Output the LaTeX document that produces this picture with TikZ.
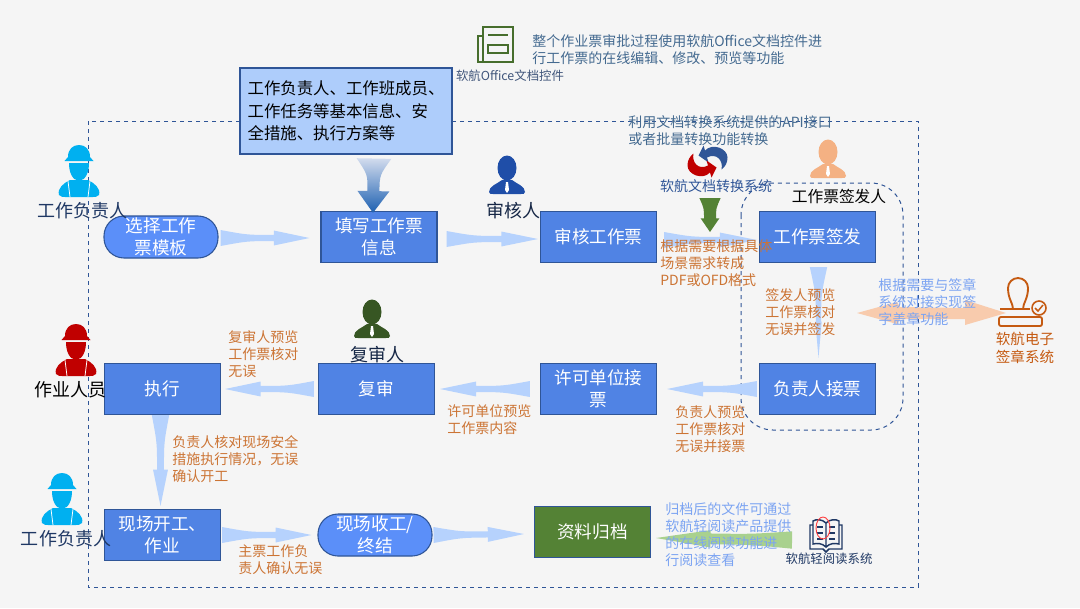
\documentclass[tikz,border=0pt]{standalone}
\usepackage{fontspec}
\setmainfont{Noto Sans CJK SC}
\usetikzlibrary{arrows.meta}
\usetikzlibrary{calc}

\definecolor{pagebg}{HTML}{F5F5F5}
\definecolor{boxblue}{HTML}{5083E4}
\definecolor{roundblue}{HTML}{5B8FF9}
\definecolor{edgeblue}{HTML}{2F5597}
\definecolor{topblue}{HTML}{AECDFB}
\definecolor{flowblue}{HTML}{B6D2FD}
\definecolor{boxgreen}{HTML}{548235}
\definecolor{softgreen}{HTML}{A9D18E}
\definecolor{softorange}{HTML}{F8CBAD}
\definecolor{noteorange}{HTML}{CC7434}
\definecolor{noteblue}{HTML}{7CA4F2}
\definecolor{notegrey}{HTML}{446A90}
\definecolor{navy}{HTML}{1F3864}
\definecolor{stamporange}{HTML}{C55A11}
\definecolor{hatcyan}{HTML}{00B0F0}
\definecolor{hatred}{HTML}{C00000}
\definecolor{suitblue}{HTML}{1F4EA8}
\definecolor{suitgreen}{HTML}{375623}
\definecolor{suitpeach}{HTML}{F4B183}

\tikzset{
  stepbox/.style={rectangle,draw=edgeblue,line width=.8pt,fill=boxblue,text=white,
    minimum width=87pt,minimum height=38.5pt,inner sep=0pt,align=center,
    font=\fontsize{13.2}{16.5}\selectfont},
  roundbox/.style={stepbox,rounded corners=15pt,fill=roundblue,minimum width=85.5pt,minimum height=31.5pt},
  frameline/.style={draw=edgeblue,dashed,line width=.75pt},
  note/.style={inner sep=0pt,anchor=west,align=left,font=\fontsize{10.5}{12.8}\selectfont},
  rolename/.style={inner sep=0pt,align=center,font=\fontsize{13.5}{16}\selectfont},
  iconline/.style={line width=1.1pt,fill=none},
  pics/suit/.style={code={
    \fill[#1] (-18,17) .. controls (-18,19) and (-16,19) .. (-14,19) -- (14,19) .. controls (16,19) and (18,19) .. (18,17) .. controls (18,11) and (10,9) .. (5,5) -- (-5,5) .. controls (-10,9) and (-18,11) .. (-18,17) -- cycle;
    \fill[#1] (0,-7) ellipse (9.5 and 12.5);
    \fill[white] (-1,7) -- (1,7) -- (2,15) -- (0,18) -- (-2,15) -- cycle;
  }},
  pics/helmet/.style={code={
    \fill[#1] (-20,24) .. controls (-22,17) and (-15,12) .. (-9,9) -- (9,9) .. controls (15,12) and (22,17) .. (20,24) .. controls (18,26) and (16,26) .. (14,26) -- (-14,26) .. controls (-16,26) and (-18,26) .. (-20,24) -- cycle;
    \fill[#1] (-10,-8) -- (10,-8) .. controls (10,1) and (7,9) .. (0,10) .. controls (-7,9) and (-10,1) .. (-10,-8) -- cycle;
    \fill[#1] (-14.5,-10) -- (-11,-14) .. controls (-11,-22) and (-6,-26) .. (0,-26) .. controls (6,-26) and (11,-22) .. (11,-14) -- (14.5,-10) -- cycle;
    \draw[white,line width=.6pt] (-11,10) -- (-9,26) (11,10) -- (9,26);
  }},
  pics/halfswap/.style={code={
    \fill[#1] (-9,-6) -- (-4,-16) -- (-2.5,-11) .. controls (5,-19) and (20,-13) .. (20,-4) .. controls (20,1) and (18,5) .. (14,8)
      .. controls (16,-1) and (9,-9) .. (-.5,-4) -- (1,1) -- cycle;
  }},
}

% tapered block arrow: look, tail, neck and head half widths, from, to
\newcommand{\flowarrow}[6]{%
  \path[#1] ($(#5)!#2!90:(#6)$) .. controls ($(#5)!.3!(#6)!#3!90:(#6)$) .. ($(#5)!.6!(#6)!#3!90:(#6)$)
    -- ($(#5)!.6!(#6)!#4!90:(#6)$) -- (#6) -- ($(#5)!.6!(#6)!#4!-90:(#6)$) -- ($(#5)!.6!(#6)!#3!-90:(#6)$)
    .. controls ($(#5)!.3!(#6)!#3!-90:(#6)$) .. ($(#5)!#2!-90:(#6)$) -- cycle;}

\begin{document}
\begin{tikzpicture}[x=.75pt,y=-.75pt]
\useasboundingbox (0,0) rectangle (1080,608);
\fill[pagebg] (0,0) rectangle (1080,608);

% dashed frames
\draw[frameline] (88,121) rectangle (918,587);
\draw[frameline,rounded corners=24pt] (741,183) rectangle (903,430);

% people
\pic at (79,171) {helmet=hatcyan};
\pic at (76,350) {helmet=hatred};
\pic at (62,499) {helmet=hatcyan};
\pic at (507,175) {suit=suitblue};
\pic at (372,319) {suit=suitgreen};
\pic at (828,159) {suit=suitpeach};

% steps
\node(S) at (161,237) [roundbox]{选择工作\\票模板};
\node(B) at (379,237) [stepbox]{填写工作票\\信息};
\node(C) at (598.5,237) [stepbox]{审核工作票};
\node(D) at (817.5,237) [stepbox]{工作票签发};
\node(E) at (817.5,389) [stepbox]{负责人接票};
\node(F) at (598.5,389) [stepbox]{许可单位接\\票};
\node(G) at (376.5,389) [stepbox]{复审};
\node(H) at (162.5,389) [stepbox]{执行};
\node(I) at (162.5,535) [stepbox]{现场开工、\\作业};
\node(K) at (375,535) [roundbox]{现场收工/\\终结};
\node(L) at (592.5,532) [stepbox,fill=boxgreen]{资料归档};
\node(T) at (346,111) [rectangle,draw=edgeblue,line width=.8pt,fill=topblue,minimum width=159pt,minimum height=64.5pt,
  inner sep=0pt,align=left,font=\fontsize{12.3}{17}\selectfont]{工作负责人、工作班成员、\\工作任务等基本信息、安\\全措施、执行方案等};

% arrow ends
\coordinate(s1) at ($(S.east)+(2,1)$);
\coordinate(b0) at ($(B.west)+(-11,1)$);
\coordinate(b1) at ($(B.east)+(9,2)$);
\coordinate(c0) at ($(C.west)+(-2,2)$);
\coordinate(c1) at ($(C.east)+(7,3)$);
\coordinate(d0) at ($(D.west)+(-2,3)$);
\coordinate(d1) at ($(D.south)+(1,4)$);
\coordinate(e0) at ($(E.north)+(1,-5)$);
\coordinate(e1) at ($(E.west)+(-2,0)$);
\coordinate(f0) at ($(F.east)+(10,0)$);
\coordinate(f1) at ($(F.west)+(-10,0)$);
\coordinate(g0) at ($(G.east)+(5,0)$);
\coordinate(g1) at ($(G.west)+(-4,0)$);
\coordinate(h0) at ($(H.east)+(4,0)$);
\coordinate(h1) at ($(H.south)+(-2,0)$);
\coordinate(i0) at ($(I.north)+(-2,-3)$);
\coordinate(i1) at ($(I.east)+(1,0)$);
\coordinate(k0) at ($(K.west)+(-6,0)$);
\coordinate(k1) at ($(K.east)+(1,0)$);
\coordinate(l0) at ($(L.west)+(-10,2)$);
\coordinate(l1) at ($(L.east)+(141,8)$);
\coordinate(m0) at ($(L.east)+(5,6)$);
\coordinate(t0) at ($(T.south)+(28,4)$);
\coordinate(t1) at ($(B.north)+(-6,2)$);
\coordinate(u0) at (710,198);
\coordinate(u1) at (710,232);

% flow arrows
\flowarrow{fill=flowblue}{6pt}{2.3pt}{5.6pt}{s1}{b0}
\flowarrow{fill=flowblue}{6pt}{2.3pt}{5.6pt}{b1}{c0}
\flowarrow{fill=flowblue}{6pt}{2.3pt}{5.6pt}{c1}{d0}
\flowarrow{fill=flowblue}{6.5pt}{2pt}{2.4pt}{d1}{e0}
\flowarrow{fill=flowblue}{6pt}{2.3pt}{5.6pt}{e1}{f0}
\flowarrow{fill=flowblue}{6pt}{2.3pt}{5.6pt}{f1}{g0}
\flowarrow{fill=flowblue}{6pt}{2.3pt}{5.6pt}{g1}{h0}
\flowarrow{fill=flowblue}{6.5pt}{2.6pt}{5.6pt}{h1}{i0}
\flowarrow{fill=flowblue}{6pt}{2.3pt}{5.6pt}{i1}{k0}
\flowarrow{fill=flowblue}{6pt}{2.3pt}{5.6pt}{k1}{l0}
\flowarrow{fill=softgreen}{6.5pt}{4pt}{6.5pt}{l1}{m0}
\flowarrow{top color=suitblue!20!white,bottom color=suitblue!90!cyan}{13pt}{4.5pt}{12pt}{t0}{t1}
\flowarrow{fill=boxgreen}{8pt}{4.5pt}{7pt}{u0}{u1}

% office control icon
\draw[iconline,draw=boxgreen!85!black] (483,27) rectangle (513,62);
\draw[iconline,draw=boxgreen!85!black] (483,36) -- (478,36) -- (478,62) -- (483,62);
\draw[iconline,draw=boxgreen!85!black] (488,35) -- (508,35) (488,45) rectangle (508,53);

% conversion icon
\pic at (707.5,161.5) {halfswap=edgeblue};
\pic[rotate=180] at (707.5,161.5) {halfswap=hatred};

% stamp icon
\draw[iconline,draw=stamporange,line width=1.4pt] (1013,309) .. controls (1013,303) and (1008,299) .. (1008,288) arc[start angle=180,end angle=360,radius=10] .. controls (1028,299) and (1023,303) .. (1023,309);
\draw[iconline,draw=stamporange,line width=1.4pt] (1000,309) -- (1030,309);
\draw[iconline,draw=stamporange,line width=1.4pt,rounded corners=1.5pt] (999,317) -- (999,326) -- (1042,326) -- (1042,317) -- cycle;
\draw[iconline,draw=stamporange,line width=1.2pt] (1039,308) circle (7);
\draw[iconline,draw=stamporange,line width=1.1pt] (1035,308) -- (1038,311) -- (1043,305);

% signing arrow
\coordinate(n0) at (857,313);
\coordinate(n1) at (1006,313);
\fill[softorange] (n0) -- (897,302) -- (900,307) -- (965,308) -- (965,300) -- (n1) -- (965,325) -- (965,319) -- (900,319) -- (897,324) -- cycle;

% reader icon
\draw[iconline,draw=navy] (826,523) .. controls (822,519) and (816,519) .. (813,521) -- (813,544) .. controls (817,543) and (822,543) .. (826,547) .. controls (830,543) and (835,543) .. (839,544) -- (839,521) .. controls (836,519) and (830,519) .. (826,523) -- (826,547);
\draw[iconline,draw=navy] (813,525) -- (810,525) -- (810,549) -- (823,549) -- (826,552) -- (829,549) -- (842,549) -- (842,525) -- (839,525);
\draw[iconline,draw=navy] (817,527) -- (823,527) (817,533) -- (823,533) (817,539) -- (823,539) (829,527) -- (835,527) (829,533) -- (835,533) (829,539) -- (835,539);
\draw[red!75!white,line width=.7pt] (823,528) ellipse (7 and 11);

% role names
\node(R1) at (82,211) [rolename,text=navy]{工作负责人};
\node(R2) at (70,390) [rolename,text=black]{作业人员};
\node(R3) at (66,539) [rolename,text=navy]{工作负责人};
\node(R4) at (513,211) [rolename,text=navy!70!black]{审核人};
\node(R5) at (377,355) [rolename,text=navy!70!black]{复审人};
\node(R6) at (839,196) [rolename,text=black,font=\fontsize{11.8}{14}\selectfont]{工作票签发人};

% system names
\node(N1) at (510,76) [inner sep=0pt,text=navy!85!white,font=\fontsize{9.3}{12}\selectfont]{软航Office文档控件};
\node(N2) at (716,186) [inner sep=0pt,text=edgeblue,font=\fontsize{10.5}{13}\selectfont]{软航文档转换系统};
\node(N3) at (1025,348) [inner sep=0pt,align=center,text=stamporange,font=\fontsize{10.9}{13}\selectfont]{软航电子\\签章系统};
\node(N4) at (829,559) [inner sep=0pt,text=navy,font=\fontsize{9.3}{12}\selectfont]{软航轻阅读系统};

% notes
\node(P1) at (532,49.5) [note,text=notegrey]{整个作业票审批过程使用软航Office文档控件进\\行工作票的在线编辑、修改、预览等功能};
\node(P2) at (628,130.5) [note,text=notegrey]{利用文档转换系统提供的API接口\\或者批量转换功能转换};
\node(P3) at (660,263.5) [note,text=noteorange]{根据需要根据具体\\场景需求转成\\PDF或OFD格式};
\node(P4) at (765,312) [note,text=noteorange]{签发人预览\\工作票核对\\无误并签发};
\node(P5) at (878,302.5) [note,text=noteblue]{根据需要与签章\\系统对接实现签\\字盖章功能};
\node(P6) at (228,354) [note,text=noteorange]{复审人预览\\工作票核对\\无误};
\node(P7) at (447,419.5) [note,text=noteorange]{许可单位预览\\工作票内容};
\node(P8) at (675,429) [note,text=noteorange]{负责人预览\\工作票核对\\无误并接票};
\node(P9) at (172,459) [note,text=noteorange]{负责人核对现场安全\\措施执行情况，无误\\确认开工};
\node(P10) at (238,559.5) [note,text=noteorange]{主票工作负\\责人确认无误};
\node(P11) at (665,534.5) [note,text=noteblue]{归档后的文件可通过\\软航轻阅读产品提供\\的在线阅读功能进\\行阅读查看};
\end{tikzpicture}
\end{document}
